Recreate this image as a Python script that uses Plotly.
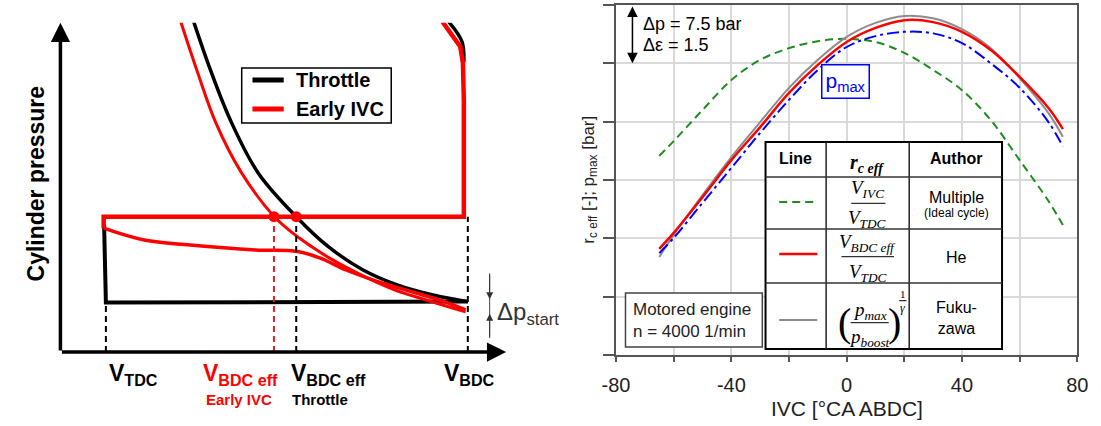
import plotly.graph_objects as go

W, H = 1101, 426
def fx(p): return p / W
def fy(p): return 1 - p / H

FONT = "Liberation Sans, Arial, sans-serif"
SERIF = "Liberation Serif, Times New Roman, serif"

# ---------------- Left: schematic p-V diagram (normalised units) ----------------
V_TDC = 0.102
V_EFF_EARLY = 0.479
V_EFF_THR = 0.529
V_BDC = 0.914
P_INTAKE = 0.411       # early-IVC intake pressure
P_THROTTLE = 0.150     # throttled intake pressure

# throttle compression curve (top -> BDC)
thr_comp_V = [0.299, 0.334, 0.381, 0.444, 0.529, 0.601, 0.679, 0.757, 0.836, 0.914]
thr_comp_p = [1.003, 0.866, 0.705, 0.543, 0.411, 0.320, 0.249, 0.203, 0.173, 0.153]
# throttle gas-exchange lines
thr_loop_V = [0.098, 0.102, 0.914]
thr_loop_p = [0.386, 0.150, 0.153]
# throttle expansion end (top right)
thr_exp_V = [0.871, 0.901, 0.905]
thr_exp_p = [1.003, 0.942, 0.880]

# early IVC: expansion end + intake line
eivc_loop_V = [0.857, 0.897, 0.903, 0.905, 0.905, 0.097, 0.097]
eivc_loop_p = [1.003, 0.927, 0.877, 0.765, 0.411, 0.411, 0.376]
# early IVC lower line
eivc_low_V = [0.097, 0.188, 0.291, 0.437, 0.532, 0.583, 0.641, 0.714, 0.788, 0.861, 0.909]
eivc_low_p = [0.376, 0.340, 0.325, 0.310, 0.305, 0.285, 0.249, 0.213, 0.183, 0.153, 0.128]
# early IVC compression curve
eivc_comp_V = [0.270, 0.306, 0.348, 0.405, 0.480, 0.536, 0.604, 0.679, 0.751, 0.828, 0.909]
eivc_comp_p = [1.003, 0.856, 0.698, 0.547, 0.411, 0.346, 0.285, 0.231, 0.188, 0.155, 0.122]

legend_names = ["Throttle", "Early IVC"]

# ---------------- Right: r_c eff / p_max vs IVC ----------------
ivc = [-65, -60, -50, -40, -30, -20, -10, 0, 10, 20, 30, 40, 50, 60, 70, 75]
rc_ideal = [8.12, 8.50, 9.30, 10.07, 10.59, 10.89, 11.07, 11.13, 11.05, 10.77, 10.33, 9.81, 9.04, 8.01, 6.96, 6.34]
rc_he = [5.73, 6.14, 7.06, 8.01, 8.86, 9.74, 10.46, 11.05, 11.41, 11.61, 11.56, 11.31, 10.84, 10.15, 9.35, 8.81]
rc_fukuzawa = [5.52, 6.09, 7.11, 8.09, 8.99, 9.87, 10.59, 11.18, 11.54, 11.72, 11.66, 11.38, 10.89, 10.12, 9.22, 8.61]
p_max = [5.62, 6.01, 6.91, 7.81, 8.71, 9.56, 10.33, 10.92, 11.20, 11.31, 11.27, 11.02, 10.50, 9.87, 8.99, 8.36]

x_ticks = [-80, -60, -40, -20, 0, 20, 40, 60, 80]
x_ticktext = ["-80", "", "-40", "", "0", "", "40", "", "80"]

fig = go.Figure()

# ---- left traces ----
fig.add_trace(go.Scatter(x=thr_loop_V, y=thr_loop_p, mode="lines", xaxis="x", yaxis="y",
                         line=dict(color="black", width=4), name=legend_names[0], showlegend=False))
fig.add_trace(go.Scatter(x=thr_comp_V, y=thr_comp_p, mode="lines", xaxis="x", yaxis="y",
                         line=dict(color="black", width=3.5, shape="spline"), showlegend=False))
fig.add_trace(go.Scatter(x=thr_exp_V, y=thr_exp_p, mode="lines", xaxis="x", yaxis="y",
                         line=dict(color="black", width=3.5, shape="spline"), showlegend=False))
fig.add_trace(go.Scatter(x=eivc_loop_V, y=eivc_loop_p, mode="lines", xaxis="x", yaxis="y",
                         line=dict(color="#ff0000", width=4.5), name=legend_names[1], showlegend=False))
fig.add_trace(go.Scatter(x=eivc_low_V, y=eivc_low_p, mode="lines", xaxis="x", yaxis="y",
                         line=dict(color="#ff0000", width=3.5, shape="spline"), showlegend=False))
fig.add_trace(go.Scatter(x=eivc_comp_V, y=eivc_comp_p, mode="lines", xaxis="x", yaxis="y",
                         line=dict(color="#ff0000", width=3, shape="spline"), showlegend=False))
# dashed verticals
for v, top, col in [(V_TDC, P_THROTTLE, "black"), (V_EFF_EARLY, P_INTAKE, "#e02020"),
                    (V_EFF_THR, P_INTAKE, "black"), (V_BDC, P_INTAKE, "black")]:
    fig.add_trace(go.Scatter(x=[v, v], y=[0, top], mode="lines", xaxis="x", yaxis="y",
                             line=dict(color=col, width=2, dash="6px,4px"), showlegend=False))
# intersection dots
fig.add_trace(go.Scatter(x=[V_EFF_EARLY, V_EFF_THR], y=[P_INTAKE, P_INTAKE], mode="markers",
                         xaxis="x", yaxis="y", marker=dict(color="#ff0000", size=11),
                         showlegend=False))

# ---- right traces ----
fig.add_trace(go.Scatter(x=ivc, y=rc_ideal, mode="lines", xaxis="x2", yaxis="y2",
                         line=dict(color="#1e8c1e", width=2, dash="8px,5px", shape="spline"),
                         showlegend=False, name="V_IVC/V_TDC"))
fig.add_trace(go.Scatter(x=ivc, y=rc_fukuzawa, mode="lines", xaxis="x2", yaxis="y2",
                         line=dict(color="#8c8c8c", width=2, shape="spline"), showlegend=False,
                         name="Fukuzawa"))
fig.add_trace(go.Scatter(x=ivc, y=rc_he, mode="lines", xaxis="x2", yaxis="y2",
                         line=dict(color="#ff0000", width=2.5, shape="spline"), showlegend=False,
                         name="He"))
fig.add_trace(go.Scatter(x=ivc, y=p_max, mode="lines", xaxis="x2", yaxis="y2",
                         line=dict(color="#0000ff", width=2, dash="12px,4px,3px,4px", shape="spline"),
                         showlegend=False, name="p_max"))

shapes = []
ann = []

# left axes arrows
ann.append(dict(x=1, y=0, ax=0, ay=0, xref="x", yref="y", axref="x", ayref="y", text="",
                showarrow=True, arrowhead=2, arrowsize=1.1, arrowwidth=3.5, arrowcolor="black"))
ann.append(dict(x=0, y=1, ax=0, ay=0, xref="x", yref="y", axref="x", ayref="y", text="",
                showarrow=True, arrowhead=2, arrowsize=1.1, arrowwidth=3.5, arrowcolor="black"))
# delta p start marker: thin vertical line with inward arrows
shapes.append(dict(type="line", xref="x", yref="y", x0=0.963, x1=0.963, y0=0.042, y1=0.239,
                   line=dict(color="#444", width=1)))
ann.append(dict(x=0.963, y=0.160, ax=0.963, ay=0.239, xref="x", yref="y", axref="x", ayref="y",
                text="", showarrow=True, arrowhead=2, arrowsize=1.4, arrowwidth=1, arrowcolor="#333"))
ann.append(dict(x=0.963, y=0.116, ax=0.963, ay=0.042, xref="x", yref="y", axref="x", ayref="y",
                text="", showarrow=True, arrowhead=2, arrowsize=1.4, arrowwidth=1, arrowcolor="#333"))
ann.append(dict(x=fx(492), y=fy(313), xref="paper", yref="paper", xanchor="left", yanchor="middle",
                text="Δp<sub>start</sub>", showarrow=False,
                font=dict(family=FONT, size=24, color="#333")))
ann.append(dict(x=fx(23), y=fy(183), xref="paper", yref="paper", xanchor="center", yanchor="middle",
                textangle=-90, text="<b>Cylinder pressure</b>", showarrow=False,
                font=dict(family=FONT, size=23, color="black")))

# manual legend (left)
LX0, LX1, LY0, LY1 = 233, 386, 68, 123
shapes.append(dict(type="rect", xref="paper", yref="paper", x0=fx(LX0), x1=fx(LX1), y0=fy(LY1), y1=fy(LY0),
                   line=dict(color="black", width=1.5), fillcolor="white", layer="above"))
for yy, col, name in [(80, "black", legend_names[0]), (109, "#ff0000", legend_names[1])]:
    shapes.append(dict(type="line", xref="paper", yref="paper", x0=fx(244), x1=fx(276), y0=fy(yy), y1=fy(yy),
                       line=dict(color=col, width=5), layer="above"))
    ann.append(dict(x=fx(286), y=fy(yy), xref="paper", yref="paper", xanchor="left", yanchor="middle",
                    text="<b>%s</b>" % name, showarrow=False, font=dict(family=FONT, size=20, color="black")))

# x labels left
lab_y = fy(358)
ann.append(dict(x=fx(95), y=lab_y, xref="paper", yref="paper", xanchor="left", yanchor="top",
                text="<b>V<sub>TDC</sub></b>", showarrow=False, font=dict(family=FONT, size=23, color="black")))
ann.append(dict(x=fx(191), y=lab_y, xref="paper", yref="paper", xanchor="left", yanchor="top",
                text="<b>V<sub>BDC eff</sub></b>", showarrow=False, font=dict(family=FONT, size=23, color="#ff0000")))
ann.append(dict(x=fx(281), y=lab_y, xref="paper", yref="paper", xanchor="left", yanchor="top",
                text="<b>V<sub>BDC eff</sub></b>", showarrow=False, font=dict(family=FONT, size=23, color="black")))
ann.append(dict(x=fx(438), y=lab_y, xref="paper", yref="paper", xanchor="left", yanchor="top",
                text="<b>V<sub>BDC</sub></b>", showarrow=False, font=dict(family=FONT, size=23, color="black")))
ann.append(dict(x=fx(194), y=fy(399), xref="paper", yref="paper", xanchor="left", yanchor="middle",
                text="<b>Early IVC</b>", showarrow=False, font=dict(family=FONT, size=15, color="#ff0000")))
ann.append(dict(x=fx(282), y=fy(399), xref="paper", yref="paper", xanchor="left", yanchor="middle",
                text="<b>Throttle</b>", showarrow=False, font=dict(family=FONT, size=15, color="black")))

# ---- right annotations ----
ann.append(dict(x=-74.3, y=10.5, ax=-74.3, ay=12.0, xref="x2", yref="y2", axref="x2", ayref="y2",
                text="", showarrow=True, arrowhead=2, arrowside="end+start", arrowsize=1.4,
                arrowwidth=1.5, arrowcolor="black"))
ann.append(dict(x=fx(642), y=fy(24), xref="paper", yref="paper", xanchor="left", yanchor="middle",
                text="Δp = 7.5 bar", showarrow=False, font=dict(family=FONT, size=18, color="black")))
ann.append(dict(x=fx(642), y=fy(45), xref="paper", yref="paper", xanchor="left", yanchor="middle",
                text="Δε = 1.5", showarrow=False, font=dict(family=FONT, size=18, color="black")))
ann.append(dict(x=fx(850.5), y=fy(81.7), xref="paper", yref="paper", xanchor="center", yanchor="middle",
                text="p<sub>max</sub>", showarrow=False, font=dict(family=FONT, size=21, color="#0000ff"),
                bordercolor="#0000ff", borderwidth=1.5, borderpad=3, bgcolor="white"))
ann.append(dict(x=fx(852), y=fy(408), xref="paper", yref="paper", xanchor="center", yanchor="middle",
                text="IVC [°CA ABDC]", showarrow=False, font=dict(family=FONT, size=21, color="#222")))
ann.append(dict(x=fx(589), y=fy(180), xref="paper", yref="paper", xanchor="center", yanchor="middle",
                textangle=-90, text="r<sub>c eff</sub> [-]; p<sub>max</sub> [bar]", showarrow=False,
                font=dict(family=FONT, size=17, color="#222")))

# Motored engine box
shapes.append(dict(type="rect", xref="paper", yref="paper", x0=fx(625.7), x1=fx(765.7),
                   y0=fy(347), y1=fy(293), line=dict(color="#444", width=1.5), fillcolor="white",
                   layer="above"))
ann.append(dict(x=fx(631), y=fy(320), xref="paper", yref="paper", xanchor="left", yanchor="middle",
                align="left", text="Motored engine<br>n = 4000 1/min", showarrow=False,
                font=dict(family=FONT, size=17, color="#222")))

# table
TX0, TX1, TY0, TY1 = 769, 1011, 142, 349
COLS = [831, 916]
ROWS = [177, 229, 283]
shapes.append(dict(type="rect", xref="paper", yref="paper", x0=fx(TX0), x1=fx(TX1), y0=fy(TY1), y1=fy(TY0),
                   line=dict(color="black", width=2), fillcolor="white", layer="above"))
for c in COLS:
    shapes.append(dict(type="line", xref="paper", yref="paper", x0=fx(c), x1=fx(c), y0=fy(TY1), y1=fy(TY0),
                       line=dict(color="#222", width=1.5), layer="above"))
for r in ROWS:
    shapes.append(dict(type="line", xref="paper", yref="paper", x0=fx(TX0), x1=fx(TX1), y0=fy(r), y1=fy(r),
                       line=dict(color="#333", width=1.5), layer="above"))
# line samples
shapes.append(dict(type="line", xref="paper", yref="paper", x0=fx(783), x1=fx(819), y0=fy(202), y1=fy(202),
                   line=dict(color="#1e8c1e", width=2, dash="8px,5px"), layer="above"))
shapes.append(dict(type="line", xref="paper", yref="paper", x0=fx(783), x1=fx(822), y0=fy(254), y1=fy(254),
                   line=dict(color="#ff0000", width=2.5), layer="above"))
shapes.append(dict(type="line", xref="paper", yref="paper", x0=fx(783), x1=fx(822), y0=fy(320), y1=fy(320),
                   line=dict(color="#8c8c8c", width=2), layer="above"))
# fraction bars
for (a, b, yy) in [(856.7, 891.7, 203.3), (846.7, 900.5, 256.7), (856.0, 895.0, 322.7), (905.7, 913.3, 300.7)]:
    shapes.append(dict(type="line", xref="paper", yref="paper", x0=fx(a), x1=fx(b), y0=fy(yy), y1=fy(yy),
                       line=dict(color="black", width=1), layer="above"))

def tann(x, y, text, size, family=FONT, color="black"):
    ann.append(dict(x=fx(x), y=fy(y), xref="paper", yref="paper", xanchor="center", yanchor="middle",
                    text=text, showarrow=False, font=dict(family=family, size=size, color=color)))

tann(800, 159, "<b>Line</b>", 16)
tann(964, 159, "<b>Author</b>", 16)
tann(873, 163, "<b><i>r</i><sub><i>c eff</i></sub></b>", 20, SERIF)
tann(873, 189, "<i>V</i><sub><i>IVC</i></sub>", 19, SERIF)
tann(873, 219, "<i>V</i><sub><i>TDC</i></sub>", 19, SERIF)
tann(873.5, 243, "<i>V</i><sub><i>BDC eff</i></sub>", 19, SERIF)
tann(873.5, 273, "<i>V</i><sub><i>TDC</i></sub>", 19, SERIF)
tann(875.5, 311, "<i>p</i><sub><i>max</i></sub>", 19, SERIF)
tann(875.5, 338, "<i>p</i><sub><i>boost</i></sub>", 19, SERIF)
tann(850, 322, "(", 40, SERIF)
tann(900.5, 322, ")", 40, SERIF)
tann(909.5, 294, "1", 11, SERIF)
tann(909.5, 308, "<i>γ</i>", 12, SERIF)
tann(964, 197, "Multiple", 16)
tann(964, 213, "(Ideal cycle)", 12)
tann(964, 257, "He", 16)
tann(964, 318, "Fuku-<br>zawa", 16)

fig.update_layout(
    width=W, height=H, margin=dict(l=0, r=0, t=0, b=0),
    paper_bgcolor="white", plot_bgcolor="white", showlegend=False,
    font=dict(family=FONT, color="black"),
    xaxis=dict(domain=[fx(47.5), fx(503.6)], range=[0, 1], visible=False),
    yaxis=dict(domain=[fy(352), fy(22.7)], range=[0, 1], visible=False),
    xaxis2=dict(domain=[fx(616), fx(1088)], range=[-80, 80], anchor="y2",
                tickmode="array", tickvals=x_ticks, ticktext=x_ticktext,
                ticks="outside", ticklen=5, tickwidth=1.5, tickcolor="#555",
                showgrid=True, gridcolor="#d9d9d9", gridwidth=1.5, zeroline=False,
                showline=True, linecolor="#555", linewidth=1.5, mirror=True,
                tickfont=dict(family=FONT, size=20, color="#222"), ticklabelstandoff=6),
    yaxis2=dict(domain=[fy(355), fy(5)], range=[3, 12], anchor="x2",
                tickmode="linear", tick0=3, dtick=1.5, showticklabels=False,
                ticks="outside", ticklen=11, tickwidth=1.5, tickcolor="#555",
                showgrid=True, gridcolor="#d9d9d9", gridwidth=1.5, zeroline=False,
                showline=True, linecolor="#555", linewidth=1.5, mirror=True),
    shapes=shapes, annotations=ann,
)

fig.write_html("out.html")
